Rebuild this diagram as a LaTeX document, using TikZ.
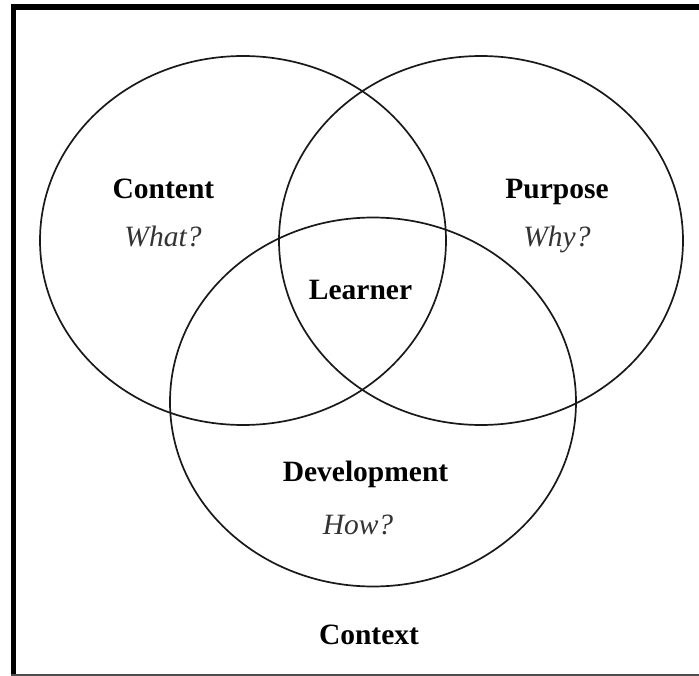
\documentclass[tikz,border=0pt]{standalone}
\usepackage{fontspec}
\setmainfont{Liberation Serif}
\begin{document}
\begin{tikzpicture}[x=1pt,y=-1pt,
  ring/.style={draw=black!90,line width=1.7pt},
  lab/.style={font=\fontsize{29.5}{34}\selectfont\bfseries,anchor=base,inner sep=0pt},
  qlab/.style={font=\fontsize{29.5}{34}\selectfont\itshape,anchor=base,inner sep=0pt,text=black!80}]
\useasboundingbox (0,0) rectangle (699,676);
\fill[white] (0,0) rectangle (699,676);
% frame
\draw[line width=5pt] (13.5,4) -- (13.5,676);
\draw[line width=6pt] (11,7) -- (699,7);
\draw[line width=1.5pt,black!70] (11,675) -- (699,675);
% circles
\draw[ring] (243,240.5) ellipse [x radius=203,y radius=184.5];
\draw[ring] (481,240.5) ellipse [x radius=202,y radius=184.5];
\draw[ring] (373,402) ellipse [x radius=203,y radius=184.5];
% labels
\node[lab] (content) at (163.5,199) {Content};
\node[qlab] (what) at (163,247) {What?};
\node[lab] (purpose) at (557,199) {Purpose};
\node[qlab] (why) at (557,247) {Why?};
\node[lab] (learner) at (360.5,300) {Learner};
\node[lab] (dev) at (365.5,481) {Development};
\node[qlab] (how) at (358,534) {How?};
\node[lab] (context) at (369,644) {Context};
\end{tikzpicture}
\end{document}
